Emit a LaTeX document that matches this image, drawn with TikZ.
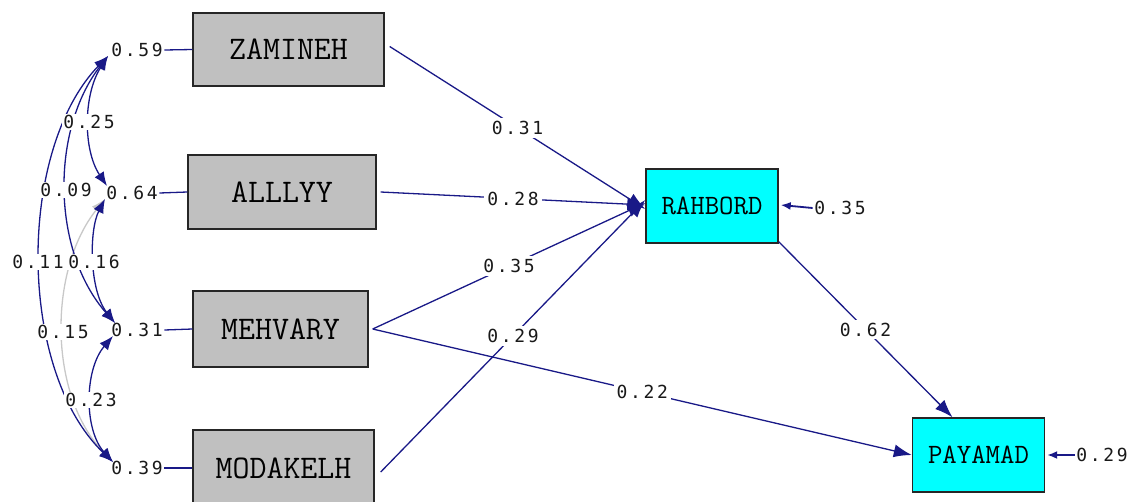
\documentclass[tikz,border=0pt]{standalone}
\usepackage{fontspec}
\usetikzlibrary{arrows.meta}
\newfontfamily\numfont[LetterSpace=15]{DejaVu Sans Mono}
\definecolor{navy}{RGB}{25,25,135}
\definecolor{boxgray}{RGB}{192,192,192}
\definecolor{cyanbox}{RGB}{0,255,255}
\definecolor{covgray}{RGB}{200,200,200}
\begin{document}
\begin{tikzpicture}[x=1pt,y=-1pt,
  obs/.style={draw=black!85, line width=1.4pt, fill=boxgray, inner sep=0pt,
    font=\ttfamily\fontsize{33}{33}\selectfont\addfontfeature{FakeBold=0.8}},
  lat/.style={draw=black!85, line width=1.4pt, fill=cyanbox, inner sep=0pt,
    minimum width=132pt, minimum height=74pt,
    font=\ttfamily\fontsize{28}{28}\selectfont\addfontfeature{FakeBold=0.8}},
  num/.style={font=\numfont\fontsize{18}{18}\selectfont, text=black!90,
    inner sep=1.5pt, fill=white},
  elab/.style={num, fill=white, inner sep=3pt},
  pth/.style={draw=navy, line width=1.3pt, -{Latex[length=18pt,width=13pt]}},
  cov/.style={draw=navy, line width=1.3pt,
    {Latex[length=14pt,width=11pt]}-{Latex[length=14pt,width=11pt]}},
  covg/.style={cov, draw=covgray},
  errl/.style={draw=navy, line width=1.3pt},
  erra/.style={draw=navy, line width=1.8pt, -{Latex[length=10pt,width=8pt]}}
]
\useasboundingbox (0,0) rectangle (1129,501);
\clip (0,0) rectangle (1129,501);

% observed boxes
\node[obs, minimum width=191pt, minimum height=73pt] (zam) at (288.5,49.5) {ZAMINEH};
\node[obs, minimum width=188pt, minimum height=74pt] (all) at (282,192) {ALLLYY};
\node[obs, minimum width=175pt, minimum height=76pt] (meh) at (280.5,329) {MEHVARY};
\node[obs, minimum width=181pt, minimum height=76pt] (mod) at (283.5,468) {MODAKELH};
% endogenous boxes
\node[lat] (rah) at (712,206) {RAHBORD};
\node[lat] (pay) at (978.5,455) {PAYAMAD};

% error labels (left)
\node[num] (e1) at (137,50) {0.59};
\node[num] (e2) at (132,193) {0.64};
\node[num] (e3) at (137,330) {0.31};
\node[num] (e4) at (137,468) {0.39};
\draw[errl] (e1.east) -- (zam.west);
\draw[errl] (e2.east) -- (all.west);
\draw[errl] (e3.east) -- (meh.west);
\draw[errl] (e4.east) -- (mod.west);

% arc end points
\coordinate (a1) at (108,56);
\coordinate (a2t) at (107,186);
\coordinate (a2b) at (105,199);
\coordinate (a3t) at (115,323);
\coordinate (a3b) at (113,336);
\coordinate (a4) at (113,462);

% covariance arcs
\draw[covg] (a2b) .. controls (48,270) and (48,395) .. (a4);
\draw[cov] (a1) .. controls (51,130) and (51,250) .. (a3t);
\draw[cov] (a1) .. controls (17,150) and (17,370) .. (a4);
\draw[cov] (a2b) .. controls (89,230) and (89,290) .. (a3t);
\draw[cov] (a3b) .. controls (84,370) and (84,430) .. (a4);
\draw[cov] (a1) .. controls (83,95) and (83,150) .. (a2t);

% covariance labels
\node[num] (c25) at (89,122) {0.25};
\node[num] (c09) at (66,190) {0.09};
\node[num] (c16) at (94,262) {0.16};
\node[num] (c11) at (38,262) {0.11};
\node[num] (c15) at (63,332) {0.15};
\node[num] (c23) at (91,400) {0.23};

% structural paths
\draw[pth] ([xshift=5pt,yshift=3pt]zam.east) -- node[elab] {0.31} ([yshift=-3pt]rah.west);
\draw[pth] ([xshift=4pt]all.east) -- node[elab] {0.28} ([yshift=1pt]rah.west);
\draw[pth] ([xshift=4pt]meh.east) -- node[elab] {0.35} ([yshift=3pt]rah.west);
\draw[pth] ([xshift=6pt,yshift=-4pt]mod.east) -- node[elab] {0.29} ([yshift=6pt]rah.west);
\draw[pth] ([xshift=4pt]meh.east) -- node[elab] {0.22} (pay.west);
\draw[pth] ([yshift=2pt]rah.south east) -- node[elab] {0.62} ([xshift=-26pt]pay.north);

% errors of endogenous variables
\node[num] (r1) at (840,208) {0.35};
\node[num] (r2) at (1102,455) {0.29};
\draw[erra] (r1.west) -- ([xshift=2pt,yshift=1pt]rah.east);
\draw[erra] (r2.west) -- ([xshift=2pt]pay.east);
\end{tikzpicture}
\end{document}
